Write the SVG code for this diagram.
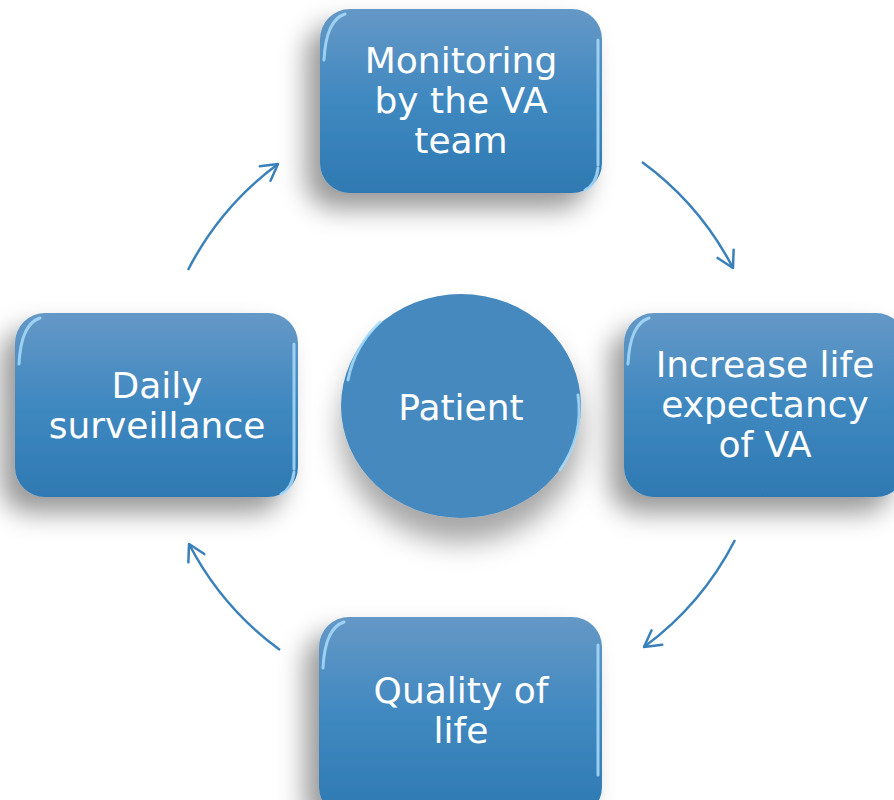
<svg xmlns="http://www.w3.org/2000/svg" width="894" height="800" viewBox="0 0 894 800">
<defs>
  <linearGradient id="boxGrad" x1="0" y1="0" x2="0" y2="1">
    <stop offset="0" stop-color="#6598c6"/>
    <stop offset="0.5" stop-color="#3f88c0"/>
    <stop offset="1" stop-color="#2f79b2"/>
  </linearGradient>
  <filter id="shadow" x="-30%" y="-30%" width="160%" height="170%">
    <feDropShadow dx="-14" dy="16" stdDeviation="13" flood-color="#000" flood-opacity="0.4"/>
  </filter>
  <filter id="cshadow" x="-30%" y="-30%" width="160%" height="170%">
    <feDropShadow dx="0" dy="24" stdDeviation="14" flood-color="#000" flood-opacity="0.35"/>
  </filter>
  <marker id="arrow" markerUnits="userSpaceOnUse" markerWidth="30" markerHeight="30" refX="18" refY="10" orient="auto" viewBox="0 0 30 20">
    <path d="M2,1 L18,10 L2,19" fill="none" stroke="#3a80ba" stroke-width="2.5" stroke-linecap="round" stroke-linejoin="round"/>
  </marker>
</defs>
<style>
  .box { fill: url(#boxGrad); filter: url(#shadow); }
  .hl { fill: none; stroke: #a8dcfa; stroke-width: 3; stroke-linecap: round; opacity: 0.85; }
  .lbl { font-family: "DejaVu Sans", Verdana, sans-serif; font-size: 36px; fill: #ffffff; text-anchor: middle; }
  .conn { fill: none; stroke: #3a80ba; stroke-width: 2.5; marker-end: url(#arrow); }
</style>
<rect width="894" height="800" fill="#ffffff"/>

<g id="connectors">
  <path class="conn" d="M642,162 A305,305 0 0 1 733,268"/>
  <path class="conn" d="M735,540 A305,305 0 0 1 644,647"/>
  <path class="conn" d="M280,650 A305,305 0 0 1 189,544"/>
  <path class="conn" d="M188,270 A305,305 0 0 1 278,164"/>
</g>

<g id="node-monitoring">
  <rect class="box" x="320" y="9" width="282" height="184" rx="30"/>
  <path class="hl" d="M324,60 Q326,20 345,14"/>
  <path class="hl" d="M598,40 L598,165"/>
  <path class="hl" d="M598,168 Q596,185 585,190"/>
  <text class="lbl" x="461" y="73">Monitoring</text>
  <text class="lbl" x="461" y="113">by the VA</text>
  <text class="lbl" x="461" y="153">team</text>
</g>

<g id="node-increase">
  <rect class="box" x="624" y="313" width="282" height="184" rx="30"/>
  <path class="hl" d="M628,364 Q630,324 649,318"/>
  <text class="lbl" x="765" y="377">Increase life</text>
  <text class="lbl" x="765" y="417">expectancy</text>
  <text class="lbl" x="765" y="457">of VA</text>
</g>

<g id="node-quality">
  <rect class="box" x="319" y="617" width="283" height="200" rx="30"/>
  <path class="hl" d="M323,668 Q325,628 344,622"/>
  <path class="hl" d="M598,645 L598,775"/>
  <text class="lbl" x="461" y="703">Quality of</text>
  <text class="lbl" x="461" y="743">life</text>
</g>

<g id="node-daily">
  <rect class="box" x="15" y="313" width="283" height="184" rx="30"/>
  <path class="hl" d="M19,364 Q21,324 40,318"/>
  <path class="hl" d="M294,344 L294,469"/>
  <path class="hl" d="M294,472 Q292,489 281,494"/>
  <text class="lbl" x="157" y="398">Daily</text>
  <text class="lbl" x="157" y="438">surveillance</text>
</g>

<g id="node-patient">
  <ellipse cx="461" cy="406" rx="120" ry="112" fill="#4589be" filter="url(#cshadow)"/>
  <path class="hl" d="M348,380 A118,110 0 0 1 380,322" opacity="0.7"/>
  <path class="hl" d="M578,395 A118,110 0 0 1 560,470" opacity="0.7"/>
  <text class="lbl" x="461" y="420">Patient</text>
</g>
</svg>
